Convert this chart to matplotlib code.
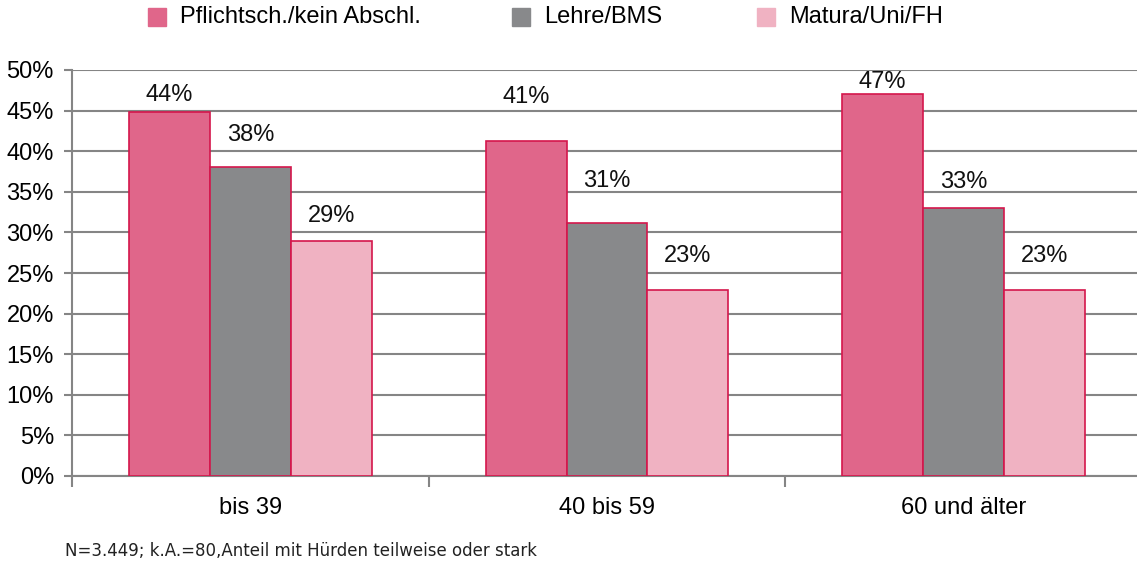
"""Grouped bar chart: Anteil mit Hürden nach Alter und Bildung"""

import matplotlib
matplotlib.use("Agg")
from matplotlib import pyplot as plt
from matplotlib.patches import Rectangle
import numpy as np

# Data
categories = ["bis 39", "40 bis 59", "60 und älter"]
series_names = ["Pflichtsch./kein Abschl.", "Lehre/BMS", "Matura/Uni/FH"]
pflicht = [44.8, 41.3, 47.0]
lehre = [38.1, 31.2, 33.0]
matura = [28.9, 22.9, 22.9]
pflicht_labels = ["44%", "41%", "47%"]
lehre_labels = ["38%", "31%", "33%"]
matura_labels = ["29%", "23%", "23%"]
yticks = [0, 5, 10, 15, 20, 25, 30, 35, 40, 45, 50]
footnote = "N=3.449; k.A.=80,Anteil mit Hürden teilweise oder stark"

# Style
COLORS = ["#E0668A", "#88898B", "#F0B2C2"]
EDGE = "#D4164C"
GRID = "#858585"
FS = 17
# label offsets above bar tops (pixels), per series/group
LABEL_OFFSETS = [[17, 44, 12], [32, 42, 26], [25, 34, 34]]

plt.rcParams["font.family"] = ["Liberation Sans", "DejaVu Sans"]

fig = plt.figure(figsize=(11.37, 5.64), dpi=100)
W, H = 1137, 564
# right end of the axis lies just past the figure edge, as in the original
ax = fig.add_axes([72 / W, 1 - 476 / H, (1142 - 72) / W, (476 - 70) / H])

x = np.arange(len(categories))
width = 0.227
all_values = [pflicht, lehre, matura]
all_labels = [pflicht_labels, lehre_labels, matura_labels]
for i, (vals, labs) in enumerate(zip(all_values, all_labels)):
    pos = x + (i - 1) * width
    ax.bar(pos, vals, width, color=COLORS[i], edgecolor=EDGE,
           linewidth=1.2, zorder=3)
    for px, v, lab, off in zip(pos, vals, labs, LABEL_OFFSETS[i]):
        ax.annotate(lab, (px, v), xytext=(0, off), textcoords="offset pixels",
                    ha="center", va="center", fontsize=FS, color="#111111")

ax.set_xlim(-0.5, 2.5)
ax.set_ylim(0, 50)
ax.set_yticks(yticks)
ax.set_yticklabels([f"{t}%" for t in yticks], fontsize=FS)
ax.yaxis.grid(True, color=GRID, linewidth=1.5, zorder=0)
ax.set_xticks(x)
ax.set_xticklabels(categories, fontsize=FS)
ax.set_xticks([-0.5, 0.5, 1.5, 2.5], minor=True)
ax.tick_params(axis="x", which="major", length=0, pad=15)
ax.tick_params(axis="x", which="minor", length=8, width=1.5, color=GRID)
ax.tick_params(axis="y", length=6, width=1.5, color=GRID, pad=7)
for side in ["top", "right"]:
    ax.spines[side].set_visible(False)
for side in ["left", "bottom"]:
    ax.spines[side].set_color(GRID)
    ax.spines[side].set_linewidth(1.5)

# Legend (manual placement)
legend_x = [148, 512, 757]
for name, col, lx in zip(series_names, COLORS, legend_x):
    fig.patches.append(Rectangle((lx / W, 1 - 26 / H), 18 / W, 18 / H,
                                 transform=fig.transFigure, color=col))
    fig.text((lx + 32) / W, 1 - 17 / H, name, fontsize=FS, va="center")

fig.text(65 / W, 1 - 551 / H, footnote, fontsize=12,
         family="DejaVu Sans", va="center", color="#222222")

plt.savefig("out.png", dpi=100)
